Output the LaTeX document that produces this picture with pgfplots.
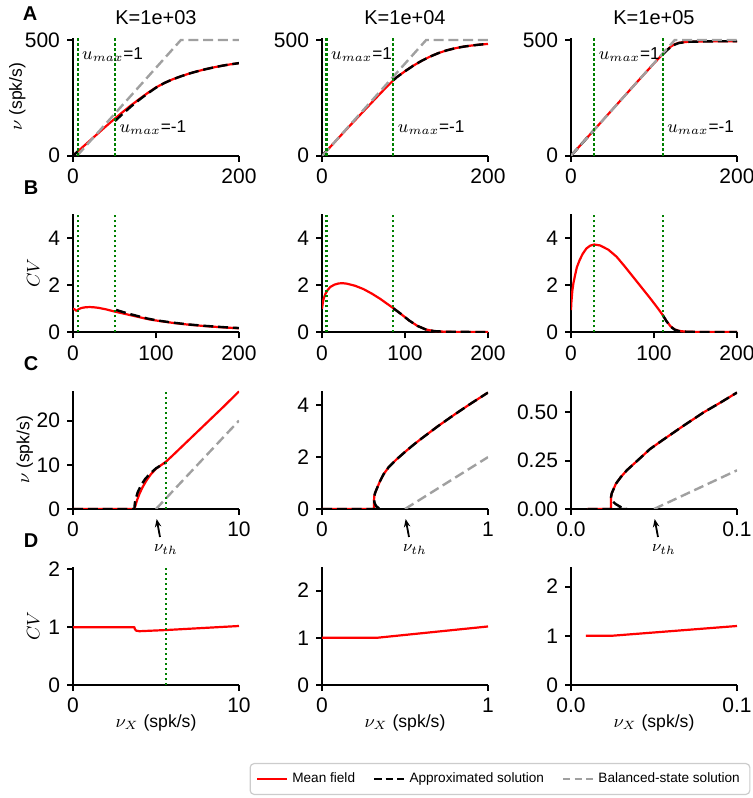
\documentclass[border=0pt]{standalone}
\usepackage{pgfplots}
\pgfplotsset{compat=1.18}
\usepackage{fontspec}
\setmainfont{Liberation Sans}
\usetikzlibrary{arrows.meta}
\definecolor{mplgreen}{RGB}{0,128,0}
\definecolor{balgray}{RGB}{160,160,160}
\pgfplotsset{
  panel/.style={scale only axis, width=83pt, height=59pt, anchor=south west,
    axis lines*=left, tick align=outside, axis line style={line width=0.9pt},
    major tick length=3pt, tick style={line width=0.9pt, black},
    ticklabel style={font=\fontsize{10.5}{12}\selectfont},
    label style={font=\fontsize{8.8}{10}\selectfont},
    every axis title shift=0pt,
    title style={font=\fontsize{10}{12}\selectfont, at={(0.5,1.108)}, anchor=base, yshift=0pt},
    xlabel style={at={(axis description cs:0.5,-0.32)}, anchor=center},
    clip mode=individual},
  mf/.style={red, line width=1.1pt, line join=round},
  ap/.style={black, line width=1.2pt, dash pattern=on 5pt off 2.4pt},
  bs/.style={color=balgray, line width=1.2pt, dash pattern=on 5pt off 2.4pt},
  gl/.style={color=mplgreen, line width=1.1pt, dash pattern=on 1.1pt off 1.4pt},
  lap/.style={black, line width=1.2pt, dash pattern=on 3.6pt off 2.1pt},
  lbs/.style={color=balgray, line width=1.2pt, dash pattern=on 3.6pt off 2.1pt},
}
\newcommand{\umaxfont}{\fontsize{8.6}{9}\selectfont}
\begin{document}
\begin{tikzpicture}
\useasboundingbox (0,0) rectangle (376.5pt,399pt);
% ===== Row A =====
\begin{axis}[panel, at={(36.5pt,321.15pt)}, xmin=0, xmax=200, ymin=0, ymax=510,
  xtick={0,200}, xticklabels={0,200}, ytick={0,500}, yticklabels={0,500},
  title={K=1e+03}, ylabel={$\nu$ (spk/s)}, ylabel style={at={(axis description cs:-0.335,0.5)}, anchor=center}]
\addplot[mf] coordinates {(0,0) (10,32) (20,64) (30,96) (40,128) (50,159) (60,189) (70,218) (80,245) (90,271) (100,295) (110,314) (120,330) (130,343) (140,355) (150,365) (160,374) (170,382) (180,389) (190,395) (200,400)};
\addplot[ap] coordinates {(0,0) (5.6,18)};
\addplot[ap] coordinates {(50.6,150) (60,181) (70,213) (80,242) (90,269) (100,294) (110,314) (120,330) (130,343) (140,355) (150,365) (160,374) (170,382) (180,389) (190,395) (200,400)};
\addplot[bs] coordinates {(5,0) (130,500) (200,500)};
\addplot[gl] coordinates {(5.6,0) (5.6,510)};
\addplot[gl] coordinates {(50.6,0) (50.6,510)};
\node[anchor=west, inner sep=0pt, font=\umaxfont] at (axis cs:10.6,436) {$u_{max}$=1};
\node[anchor=west, inner sep=0pt, font=\umaxfont] at (axis cs:55.6,122) {$u_{max}$=-1};
\end{axis}
\begin{axis}[panel, at={(161pt,321.15pt)}, xmin=0, xmax=200, ymin=0, ymax=510,
  xtick={0,200}, xticklabels={0,200}, ytick={0,500}, yticklabels={0,500},
  title={K=1e+04}]
\addplot[mf] coordinates {(0,0) (10,38) (20,77) (30,116) (40,154) (50,192) (60,230) (70,268) (80,305) (86,326) (90,339) (100,365) (110,389) (120,410) (130,428) (140,443) (150,455) (160,464) (170,471) (180,476) (190,480) (200,483)};
\addplot[ap] coordinates {(0,0) (5.5,21)};
\addplot[ap] coordinates {(86,326) (90,339) (100,365) (110,389) (120,410) (130,428) (140,443) (150,455) (160,464) (170,471) (180,476) (190,480) (200,483)};
\addplot[bs] coordinates {(0.5,0) (125.5,500) (200,500)};
\addplot[gl] coordinates {(5.5,0) (5.5,510)};
\addplot[gl] coordinates {(86,0) (86,510)};
\node[anchor=west, inner sep=0pt, font=\umaxfont] at (axis cs:10.5,436) {$u_{max}$=1};
\node[anchor=west, inner sep=0pt, font=\umaxfont] at (axis cs:91,122) {$u_{max}$=-1};
\end{axis}
\begin{axis}[panel, at={(285.5pt,321.15pt)}, xmin=0, xmax=200, ymin=0, ymax=510,
  xtick={0,200}, xticklabels={0,200}, ytick={0,500}, yticklabels={0,500},
  title={K=1e+05}]
\addplot[mf] coordinates {(0,0) (20,80) (40,160) (60,240) (80,320) (100,399) (110,437) (115,455) (120,471) (125,482) (130,488) (140,492) (160,494) (200,495)};
\addplot[ap] coordinates {(0,0) (28,112)};
\addplot[ap] coordinates {(110.5,437) (115,454) (120,469) (125,480) (130,487) (140,492) (160,494) (200,495)};
\addplot[bs] coordinates {(0.05,0) (125.05,500) (200,500)};
\addplot[gl] coordinates {(28,0) (28,510)};
\addplot[gl] coordinates {(110.5,0) (110.5,510)};
\node[anchor=west, inner sep=0pt, font=\umaxfont] at (axis cs:33,436) {$u_{max}$=1};
\node[anchor=west, inner sep=0pt, font=\umaxfont] at (axis cs:115.5,122) {$u_{max}$=-1};
\end{axis}
% ===== Row B =====
\begin{axis}[panel, at={(36.5pt,232.85pt)}, xmin=0, xmax=200, ymin=0, ymax=5,
  xtick={0,100,200}, xticklabels={0,100,200}, ytick={0,2,4}, yticklabels={0,2,4},
  ylabel={$CV$}, ylabel style={at={(axis description cs:-0.24,0.5)}, anchor=center}]
\addplot[mf] coordinates {(0,1.0) (2,0.97) (4,0.91) (5,0.93) (7,0.98) (10,1.03) (15,1.06) (20,1.07) (25,1.06) (30,1.04) (40,0.97) (50,0.88) (60,0.8) (70,0.72) (80,0.64) (90,0.56) (100,0.5) (120,0.4) (140,0.32) (160,0.26) (180,0.21) (200,0.17)};
\addplot[ap] coordinates {(52,0.95) (60,0.86) (70,0.76) (80,0.67) (90,0.58) (100,0.51) (120,0.41) (140,0.33) (160,0.27) (180,0.22) (200,0.18)};
\addplot[gl] coordinates {(5.6,0) (5.6,5)};
\addplot[gl] coordinates {(50.6,0) (50.6,5)};
\end{axis}
\begin{axis}[panel, at={(161pt,232.85pt)}, xmin=0, xmax=200, ymin=0, ymax=5,
  xtick={0,100,200}, xticklabels={0,100,200}, ytick={0,2,4}, yticklabels={0,2,4}]
\addplot[mf] coordinates {(0,1.0) (1,1.25) (2,1.42) (4,1.62) (7,1.8) (10,1.92) (15,2.02) (20,2.07) (25,2.08) (30,2.06) (40,1.97) (50,1.83) (60,1.64) (70,1.42) (80,1.17) (86,1.02) (95,0.78) (105,0.5) (115,0.27) (125,0.12) (135,0.05) (150,0.02) (200,0.01)};
\addplot[ap] coordinates {(86,1.02) (95,0.78) (105,0.5) (115,0.27) (125,0.12) (135,0.05) (150,0.02) (200,0.01)};
\addplot[gl] coordinates {(5.5,0) (5.5,5)};
\addplot[gl] coordinates {(86,0) (86,5)};
\end{axis}
\begin{axis}[panel, at={(285.5pt,232.85pt)}, xmin=0, xmax=200, ymin=0, ymax=5,
  xtick={0,100,200}, xticklabels={0,100,200}, ytick={0,2,4}, yticklabels={0,2,4}]
\addplot[mf] coordinates {(0,0.94) (0.5,1.3) (1.7,1.79) (3,2.1) (4.5,2.35) (7,2.75) (10.4,3.06) (14,3.32) (18.5,3.55) (23,3.67) (28,3.72) (35,3.68) (45,3.5) (55,3.2) (65,2.78) (75,2.34) (85,1.9) (95,1.46) (105,1.0) (110.5,0.73) (115,0.48) (120,0.25) (125,0.12) (130,0.06) (140,0.02) (200,0.01)};
\addplot[ap] coordinates {(110.5,0.73) (115,0.47) (120,0.24) (125,0.11) (130,0.05) (140,0.02) (160,0.01) (200,0.01)};
\addplot[gl] coordinates {(28,0) (28,5)};
\addplot[gl] coordinates {(110.5,0) (110.5,5)};
\end{axis}
% ===== Row C =====
\begin{axis}[panel, at={(36.5pt,144.5pt)}, xmin=0, xmax=10, ymin=0, ymax=26.7,
  xtick={0,10}, xticklabels={0,10}, ytick={0,10,20}, yticklabels={0,10,20},
  ylabel={$\nu$ (spk/s)}, ylabel style={at={(axis description cs:-0.29,0.5)}, anchor=center}]
\addplot[mf] coordinates {(0,0) (3.7,0) (3.75,0.6) (3.85,1.9) (4.0,3.4) (4.2,5.0) (4.45,6.6) (4.7,7.9) (5.0,9.1) (5.3,9.9) (5.6,10.7) (6,12.1) (7,15.7) (8,19.3) (9,22.9) (10,26.6)};
\addplot[ap] coordinates {(0,0) (3.7,0) (3.72,1.2) (3.78,2.3) (3.9,3.8) (4.1,5.4) (4.35,6.8) (4.64,8.0) (5.0,9.2) (5.3,9.9) (5.6,10.5)};
\addplot[bs] coordinates {(5,0) (10,20)};
\addplot[gl] coordinates {(5.6,0) (5.6,26.7)};
\draw[-{Stealth[length=4pt,width=3.2pt]}, line width=0.9pt] (rel axis cs:0.524,-0.237) -- (rel axis cs:0.504,-0.085);
\node[font=\fontsize{8}{9}\selectfont] at (rel axis cs:0.56,-0.347) {$\nu_{th}$};
\end{axis}
\begin{axis}[panel, at={(161pt,144.5pt)}, xmin=0, xmax=1, ymin=0, ymax=4.55,
  xtick={0,1}, xticklabels={0,1}, ytick={0,2,4}, yticklabels={0,2,4}]
\addplot[mf] coordinates {(0,0) (0.313,0) (0.313,0.3) (0.315,0.5) (0.32,0.62) (0.33,0.78) (0.35,1.08) (0.37,1.33) (0.4,1.6) (0.45,1.92) (0.5,2.2) (0.55,2.47) (0.6,2.72) (0.7,3.2) (0.8,3.65) (0.9,4.08) (1.0,4.49)};
\addplot[ap] coordinates {(0,0) (0.35,0) (0.34,0.04) (0.325,0.12) (0.316,0.25) (0.313,0.4) (0.315,0.5) (0.32,0.62) (0.33,0.78) (0.35,1.08) (0.37,1.33) (0.4,1.6) (0.45,1.92) (0.5,2.2) (0.55,2.47) (0.6,2.72) (0.7,3.2) (0.8,3.65) (0.9,4.08) (1.0,4.49)};
\addplot[bs] coordinates {(0.5,0) (1,2)};
\draw[-{Stealth[length=4pt,width=3.2pt]}, line width=0.9pt] (rel axis cs:0.524,-0.237) -- (rel axis cs:0.504,-0.085);
\node[font=\fontsize{8}{9}\selectfont] at (rel axis cs:0.56,-0.347) {$\nu_{th}$};
\end{axis}
\begin{axis}[panel, at={(285.5pt,144.5pt)}, xmin=0, xmax=0.1, ymin=0, ymax=0.61,
  xtick={0,0.1}, xticklabels={0.0,0.1}, ytick={0,0.25,0.5}, yticklabels={0.00,0.25,0.50}]
\addplot[mf] coordinates {(0.01,0) (0.0241,0) (0.0241,0.06) (0.0245,0.08) (0.0255,0.1) (0.027,0.13) (0.03,0.165) (0.0336,0.2) (0.04,0.25) (0.0476,0.31) (0.055,0.355) (0.0677,0.43) (0.08,0.5) (0.09,0.55) (0.1,0.602)};
\addplot[ap] coordinates {(0.01,0) (0.0335,0) (0.03,0.01) (0.027,0.025) (0.025,0.04) (0.0241,0.06) (0.0245,0.08) (0.0255,0.1) (0.027,0.13) (0.03,0.165) (0.0336,0.2) (0.04,0.25) (0.0476,0.31) (0.055,0.355) (0.0677,0.43) (0.08,0.5) (0.09,0.55) (0.1,0.602)};
\addplot[bs] coordinates {(0.05,0) (0.1,0.2)};
\draw[-{Stealth[length=4pt,width=3.2pt]}, line width=0.9pt] (rel axis cs:0.524,-0.237) -- (rel axis cs:0.504,-0.085);
\node[font=\fontsize{8}{9}\selectfont] at (rel axis cs:0.56,-0.347) {$\nu_{th}$};
\end{axis}
% ===== Row D =====
\begin{axis}[panel, at={(36.5pt,56.5pt)}, xmin=0, xmax=10, ymin=0, ymax=2.04,
  xtick={0,10}, xticklabels={0,10}, ytick={0,1,2}, yticklabels={0,1,2},
  ylabel={$CV$}, ylabel style={at={(axis description cs:-0.24,0.5)}, anchor=center},
  xlabel={$\nu_X$ (spk/s)}]
\addplot[mf] coordinates {(0,1) (3.7,1) (3.72,0.97) (3.8,0.94) (4.0,0.93) (5.6,0.95) (10,1.02)};
\addplot[gl] coordinates {(5.6,0) (5.6,2.04)};
\end{axis}
\begin{axis}[panel, at={(161pt,56.5pt)}, xmin=0, xmax=1, ymin=0, ymax=2.5,
  xtick={0,1}, xticklabels={0,1}, ytick={0,1,2}, yticklabels={0,1,2},
  xlabel={$\nu_X$ (spk/s)}]
\addplot[mf] coordinates {(0,1) (0.33,1.0) (1.0,1.24)};
\end{axis}
\begin{axis}[panel, at={(285.5pt,56.5pt)}, xmin=0, xmax=0.1, ymin=0, ymax=2.4,
  xtick={0,0.1}, xticklabels={0.0,0.1}, ytick={0,1,2}, yticklabels={0,1,2},
  xlabel={$\nu_X$ (spk/s)},
  legend image code/.code={\draw[#1] (0pt,0pt) -- (15pt,0pt);},
  legend style={at={(-0.4277,-0.7966)}, anchor=center, legend columns=3,
    draw=black!20, line width=0.6pt, rounded corners=2pt, font=\fontsize{6.8}{8.5}\selectfont,
    inner xsep=3pt, inner ysep=2.5pt,
    /tikz/every even column/.append style={column sep=7pt}}]
\addplot[mf, forget plot] coordinates {(0.009,1.0) (0.0241,1.0) (0.1,1.2)};
\addlegendimage{mf}
\addlegendentry{Mean field}
\addlegendimage{lap}
\addlegendentry{Approximated solution}
\addlegendimage{lbs}
\addlegendentry{Balanced-state solution}
\end{axis}
% panel letters
\node[font=\bfseries\fontsize{10}{12}\selectfont] at (15pt,392pt) {A};
\node[font=\bfseries\fontsize{10}{12}\selectfont] at (15.5pt,305.25pt) {B};
\node[font=\bfseries\fontsize{10}{12}\selectfont] at (15.5pt,217pt) {C};
\node[font=\bfseries\fontsize{10}{12}\selectfont] at (15.5pt,128.5pt) {D};
\end{tikzpicture}
\end{document}
